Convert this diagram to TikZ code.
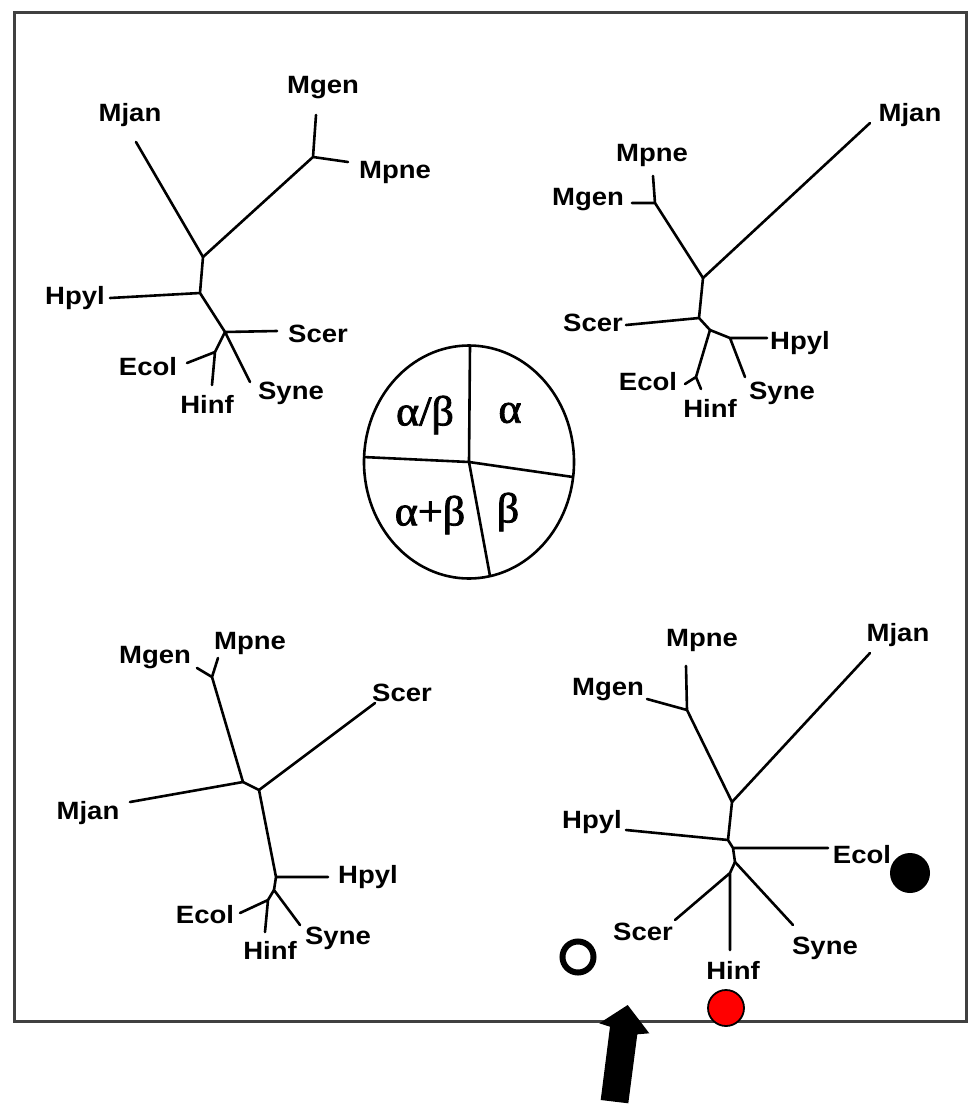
\documentclass[tikz,border=0pt]{standalone}
\usepackage{fontspec}
\newfontfamily\taxafont[FakeStretch=1.1]{Liberation Sans Bold}
\newfontfamily\greekfont[FakeStretch=1.05,FakeBold=2]{Liberation Serif}
\begin{document}
\begin{tikzpicture}[x=1pt,y=-1pt,
  branch/.style={line width=2.6pt,line cap=round,line join=round},
  taxon/.style={inner sep=0pt,font=\taxafont\fontsize{25}{27}\selectfont},
  fold/.style={inner sep=0pt,font=\greekfont\fontsize{42}{45}\selectfont}]
\useasboundingbox (0,0) rectangle (968,1106);
% frame
\draw[line width=3pt,black!75] (14,12) rectangle (966,1021);

% ---------- tree 1 (upper left) ----------
\coordinate (p1a) at (203,257);
\coordinate (p1m) at (313,157);
\coordinate (p1b) at (200,293);
\coordinate (p1c) at (225,332);
\coordinate (p1d) at (215,352);
\coordinate (t1mjan) at (136,142);
\coordinate (t1mgen) at (316,115);
\coordinate (t1mpne) at (348,162);
\coordinate (t1hpyl) at (110,298);
\coordinate (t1scer) at (277,331);
\coordinate (t1syne) at (250,382);
\coordinate (t1ecol) at (187,363);
\coordinate (t1hinf) at (212,385);
\draw[branch] (t1mjan) -- (p1a) -- (p1m) -- (t1mgen) (p1m) -- (t1mpne);
\draw[branch] (p1a) -- (p1b) -- (t1hpyl) (p1b) -- (p1c) -- (t1scer) (p1c) -- (t1syne);
\draw[branch] (p1c) -- (p1d) -- (t1ecol) (p1d) -- (t1hinf);
\node[taxon] (l1mjan) at (130,115) {Mjan};
\node[taxon] (l1mgen) at (323,88) {Mgen};
\node[taxon] (l1mpne) at (395,172) {Mpne};
\node[taxon] (l1hpyl) at (75,298) {Hpyl};
\node[taxon] (l1scer) at (318,334) {Scer};
\node[taxon] (l1ecol) at (148,367) {Ecol};
\node[taxon] (l1hinf) at (207,404) {Hinf};
\node[taxon] (l1syne) at (291,393) {Syne};

% ---------- tree 2 (upper right) ----------
\coordinate (p2a) at (703,278);
\coordinate (p2m) at (655,203);
\coordinate (p2b) at (699,318);
\coordinate (p2c) at (710,330);
\coordinate (p2e) at (730,338);
\coordinate (p2d) at (696,377);
\coordinate (t2mjan) at (870,123);
\coordinate (t2mpne) at (653,176);
\coordinate (t2mgen) at (632,203);
\coordinate (t2scer) at (626,325);
\coordinate (t2hpyl) at (767,338);
\coordinate (t2syne) at (745,377);
\coordinate (t2ecol) at (685,384);
\coordinate (t2hinf) at (701,389);
\draw[branch] (t2mjan) -- (p2a) -- (p2m) -- (t2mpne) (p2m) -- (t2mgen);
\draw[branch] (p2a) -- (p2b) -- (t2scer) (p2b) -- (p2c) -- (p2e) -- (t2hpyl) (p2e) -- (t2syne);
\draw[branch] (p2c) -- (p2d) -- (t2ecol) (p2d) -- (t2hinf);
\node[taxon] (l2mjan) at (910,115) {Mjan};
\node[taxon] (l2mpne) at (652,155) {Mpne};
\node[taxon] (l2mgen) at (588,200) {Mgen};
\node[taxon] (l2scer) at (593,323) {Scer};
\node[taxon] (l2hpyl) at (800,343) {Hpyl};
\node[taxon] (l2ecol) at (648,382) {Ecol};
\node[taxon] (l2hinf) at (710,408) {Hinf};
\node[taxon] (l2syne) at (782,393) {Syne};

% ---------- fold-class pie ----------
\coordinate (pc) at (469,462);
\draw[line width=2.6pt] (pc) ellipse [x radius=105, y radius=116.5];
\coordinate (pn) at (470,346);
\coordinate (pw) at (363,457);
\coordinate (pe) at (573,477);
\coordinate (ps) at (490,576);
\draw[line width=2.6pt] (pn) -- (pc) (pw) -- (pc) -- (pe) (pc) -- (ps);
\node[fold] (fab) at (425,415) {α/β};
\node[fold] (fa) at (510,413) {α};
\node[fold] (fapb) at (430,515) {α+β};
\node[fold] (fb) at (508,512) {β};

% ---------- tree 3 (lower left) ----------
\coordinate (p3m) at (212,677);
\coordinate (p3a) at (243,782);
\coordinate (p3b) at (259,790);
\coordinate (p3c) at (276,877);
\coordinate (p3e) at (274,890);
\coordinate (p3d) at (268,900);
\coordinate (t3mpne) at (218,658);
\coordinate (t3mgen) at (197,668);
\coordinate (t3mjan) at (130,802);
\coordinate (t3scer) at (375,703);
\coordinate (t3hpyl) at (328,877);
\coordinate (t3syne) at (300,925);
\coordinate (t3ecol) at (240,913);
\coordinate (t3hinf) at (265,932);
\draw[branch] (t3mpne) -- (p3m) -- (t3mgen) (p3m) -- (p3a) -- (t3mjan);
\draw[branch] (p3a) -- (p3b) -- (t3scer) (p3b) -- (p3c) -- (t3hpyl) (p3c) -- (p3e) -- (t3syne);
\draw[branch] (p3e) -- (p3d) -- (t3ecol) (p3d) -- (t3hinf);
\node[taxon] (l3mgen) at (155,658) {Mgen};
\node[taxon] (l3mpne) at (250,643) {Mpne};
\node[taxon] (l3scer) at (402,693) {Scer};
\node[taxon] (l3mjan) at (88,813) {Mjan};
\node[taxon] (l3hpyl) at (368,877) {Hpyl};
\node[taxon] (l3ecol) at (205,915) {Ecol};
\node[taxon] (l3hinf) at (270,950) {Hinf};
\node[taxon] (l3syne) at (338,938) {Syne};

% ---------- tree 4 (lower right) ----------
\coordinate (p4a) at (732,802);
\coordinate (p4m) at (687,710);
\coordinate (p4b) at (728,840);
\coordinate (p4c) at (733,848);
\coordinate (p4e) at (735,862);
\coordinate (p4f) at (730,873);
\coordinate (t4mjan) at (870,653);
\coordinate (t4mpne) at (686,666);
\coordinate (t4mgen) at (647,699);
\coordinate (t4hpyl) at (626,830);
\coordinate (t4ecol) at (828,848);
\coordinate (t4syne) at (793,925);
\coordinate (t4scer) at (675,920);
\coordinate (t4hinf) at (730,950);
\draw[branch] (t4mjan) -- (p4a) -- (p4m) -- (t4mpne) (p4m) -- (t4mgen);
\draw[branch] (p4a) -- (p4b) -- (t4hpyl) (p4b) -- (p4c) -- (t4ecol) (p4c) -- (p4e) -- (t4syne);
\draw[branch] (p4e) -- (p4f) -- (t4scer) (p4f) -- (t4hinf);
\node[taxon] (l4mjan) at (898,635) {Mjan};
\node[taxon] (l4mpne) at (702,640) {Mpne};
\node[taxon] (l4mgen) at (608,690) {Mgen};
\node[taxon] (l4hpyl) at (592,822) {Hpyl};
\node[taxon] (l4ecol) at (862,855) {Ecol};
\node[taxon] (l4scer) at (643,932) {Scer};
\node[taxon] (l4hinf) at (733,970) {Hinf};
\node[taxon] (l4syne) at (825,948) {Syne};

% ---------- markers ----------
\node[circle,fill=black,minimum size=40pt,inner sep=0pt] (dotblack) at (910,873) {};
\node[circle,draw=black,line width=6pt,fill=white,minimum size=31pt,inner sep=0pt] (dotopen) at (578,957) {};
\node[circle,draw=black,line width=1.8pt,fill=red,minimum size=36pt,inner sep=0pt] (dotred) at (726,1008) {};

% pointer arrow
\fill[black] (627.7,1005) -- (649.3,1033.3) -- (637.3,1034.3) -- (628.3,1103.3)
  -- (600.7,1100) -- (610,1026.7) -- (599.3,1023.3) -- cycle;
\end{tikzpicture}
\end{document}
